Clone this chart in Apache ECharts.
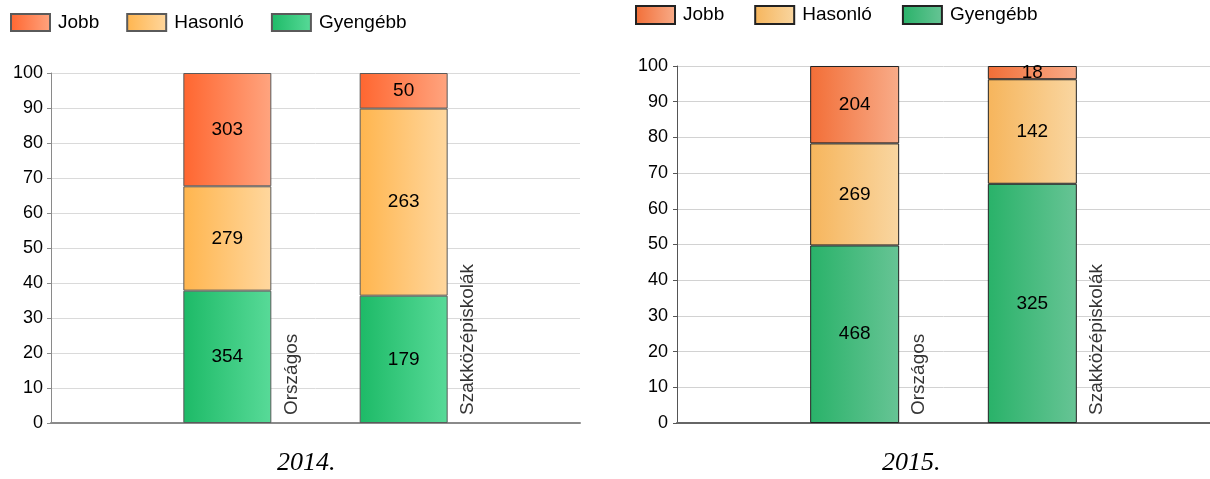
<!DOCTYPE html>
<html>
<head>
<meta charset="utf-8">
<script src="https://cdn.jsdelivr.net/npm/echarts@6/dist/echarts.min.js"></script>
<style>
html,body{margin:0;padding:0;background:#fff;}
#c{width:1210px;height:479px;}
</style>
</head>
<body>
<div id="c"></div>
<script>
// ---- data ----
const categories = ['', 'Országos', 'Szakközépiskolák', ''];
const seriesNames = ['Jobb', 'Hasonló', 'Gyengébb'];
const jobb2014 = [null, 303, 50, null];
const hasonlo2014 = [null, 279, 263, null];
const gyengebb2014 = [null, 354, 179, null];
const jobb2015 = [null, 204, 18, null];
const hasonlo2015 = [null, 269, 142, null];
const gyengebb2015 = [null, 468, 325, null];
const yTicks = [0, 10, 20, 30, 40, 50, 60, 70, 80, 90, 100];
const captions = ['2014.', '2015.'];

const FONT = 'Liberation Sans';

function grad(a, b) {
  return new echarts.graphic.LinearGradient(0, 0, 1, 0, [{offset: 0, color: a}, {offset: 1, color: b}]);
}
const colors2014 = {
  'Jobb': grad('#FF6630', '#FFA47F'),
  'Hasonló': grad('#FFB54E', '#FFD79E'),
  'Gyengébb': grad('#1DBA67', '#58DA98')
};
const colors2015 = {
  'Jobb': grad('#F26E37', '#F8AC89'),
  'Hasonló': grad('#F6B55C', '#F9D6A1'),
  'Gyengébb': grad('#29B269', '#67C495')
};

function pct(counts, all) {
  return counts.map((v, i) => {
    if (v == null) return null;
    const tot = all.reduce((s, arr) => s + arr[i], 0);
    return { value: v / tot * 100, count: v };
  });
}

function buildSeries(year, idx, sets, palette, border) {
  const all = [sets.Jobb, sets['Hasonló'], sets['Gyengébb']];
  const out = [];
  ['Gyengébb', 'Hasonló', 'Jobb'].forEach(n => {
    out.push({
      name: n + '|' + year,
      type: 'bar',
      xAxisIndex: idx, yAxisIndex: idx,
      stack: 's' + year,
      barWidth: idx === 0 ? 88 : 89,
      data: pct(sets[n], all),
      itemStyle: { color: palette[n], borderColor: border, borderWidth: 1 },
      label: {
        show: true, position: 'inside', fontFamily: FONT, fontSize: 19, color: '#000',
        formatter: p => p.data.count
      },
      silent: true
    });
  });
  out.push({
    type: 'scatter', name: 'cat' + year,
    xAxisIndex: idx, yAxisIndex: idx,
    symbolSize: 1, itemStyle: { color: 'rgba(0,0,0,0)' },
    data: [[1, 0], [2, 0]],
    silent: true, z: 5,
    label: {
      show: true, position: [64.5, -7.5], rotate: 90, align: 'left', verticalAlign: 'middle',
      fontFamily: FONT, fontSize: 19, color: '#000',
      formatter: p => categories[p.data[0]]
    }
  });
  return out;
}

const chart = echarts.init(document.getElementById('c'), null, { renderer: 'canvas' });

function yAxis(idx, axisColor, gridColor) {
  return {
    type: 'value', gridIndex: idx, min: 0, max: 100, interval: 10,
    axisLine: { show: true, lineStyle: { color: axisColor, width: 1 } },
    axisTick: { show: true, length: 4, lineStyle: { color: axisColor } },
    splitLine: { show: true, lineStyle: { color: gridColor, width: 1 } },
    axisLabel: { fontFamily: FONT, fontSize: 18, color: '#000', margin: idx === 0 ? 8 : 9,
      formatter: v => yTicks.includes(v) ? String(v) : '' }
  };
}
function xAxis(idx, axisColor) {
  return {
    type: 'category', gridIndex: idx, data: categories, boundaryGap: false,
    axisLine: { show: true, onZero: false, lineStyle: { color: axisColor, width: 2 } },
    axisTick: { show: false }, axisLabel: { show: false }, splitLine: { show: false }
  };
}

const legendCommon = {
  orient: 'horizontal', itemWidth: 39, itemHeight: 17, itemGap: 27,
  icon: 'rect', selectedMode: false,
  textStyle: { fontFamily: FONT, fontSize: 19, color: '#000', padding: [0, 0, 0, 3] },
  formatter: n => n.split('|')[0]
};

chart.setOption({
  animation: false,
  backgroundColor: '#fff',
  title: [
    { text: captions[0], left: 277, top: 450, textStyle: { fontFamily: 'Liberation Serif', fontStyle: 'italic', fontWeight: 'normal', fontSize: 26, color: '#000' }, padding: 0 },
    { text: captions[1], left: 882, top: 450, textStyle: { fontFamily: 'Liberation Serif', fontStyle: 'italic', fontWeight: 'normal', fontSize: 26, color: '#000' }, padding: 0 }
  ],
  legend: [
    Object.assign({}, legendCommon, { left: 10, top: 13, padding: 0, data: seriesNames.map(n => n + '|2014') }),
    Object.assign({}, legendCommon, { left: 635, top: 5, padding: 0, itemHeight: 18, itemGap: 30, data: seriesNames.map(n => n + '|2015') })
  ],
  grid: [
    { left: 51, top: 73, width: 529, height: 350, containLabel: false },
    { left: 677, top: 66, width: 537, height: 357, containLabel: false }
  ],
  xAxis: [xAxis(0, '#8a8a8a'), xAxis(1, '#666')],
  yAxis: [yAxis(0, '#8a8a8a', '#dadada'), yAxis(1, '#555', '#d2d2d2')],
  series: [].concat(
    buildSeries(2014, 0, { 'Jobb': jobb2014, 'Hasonló': hasonlo2014, 'Gyengébb': gyengebb2014 }, colors2014, '#5a5a5a'),
    buildSeries(2015, 1, { 'Jobb': jobb2015, 'Hasonló': hasonlo2015, 'Gyengébb': gyengebb2015 }, colors2015, '#222')
  )
});
</script>
</body>
</html>
